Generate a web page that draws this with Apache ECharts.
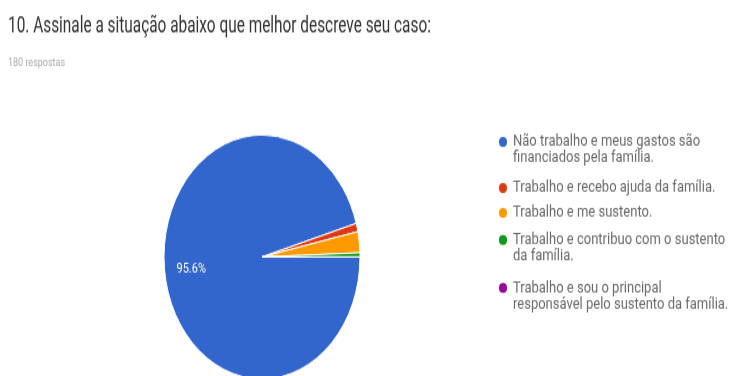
<!DOCTYPE html>
<html>
<head>
<meta charset="utf-8">
<script src="https://cdn.jsdelivr.net/npm/echarts@6/dist/echarts.min.js"></script>
<style>
  html, body { margin: 0; padding: 0; width: 738px; height: 376px; background: #ffffff; overflow: hidden; }
  /* the chart is drawn in a 738x302 box and stretched vertically to fill 376px */
  #chart { width: 738px; height: 302px; transform: scale(1, 1.245); transform-origin: 0 0; }
</style>
</head>
<body>
<div id="chart"></div>
<script>
// Survey question, response count and answer breakdown
const questionTitle = '10. Assinale a situação abaixo que melhor descreve seu caso:';
const responseNote = '180 respostas';
const answers = [
  'Não trabalho e meus gastos são financiados pela família.',
  'Trabalho e recebo ajuda da família.',
  'Trabalho e me sustento.',
  'Trabalho e contribuo com o sustento da família.',
  'Trabalho e sou o principal responsável pelo sustento da família.'
];
// legend text, wrapped the way it is shown beside the pie
const answerLines = [
  ['Não trabalho e meus gastos são', 'financiados pela família.'],
  ['Trabalho e recebo ajuda da família.'],
  ['Trabalho e me sustento.'],
  ['Trabalho e contribuo com o sustento', 'da família.'],
  ['Trabalho e sou o principal', 'responsável pelo sustento da família.']
];
const answerCounts = [172, 2, 5, 1, 0];
const sliceColors = ['#3366cc', '#dc3912', '#ff9900', '#109618', '#990099'];

const totalCount = answerCounts.reduce((s, v) => s + v, 0);
const pieData = answers.map((name, i) => ({ name: name, value: answerCounts[i] }));

const legendFont = 'Roboto, "Liberation Sans", sans-serif';
const lineH = 13;
const markerY = [114.1, 151.0, 171.1, 192.8, 231.3];
// wrapped entries get an empty leading line so the marker lines up with their first line
const legends = answers.map((name, i) => {
  const multi = answerLines[i].length > 1;
  return {
    data: [name],
    orient: 'vertical',
    left: 497,
    top: markerY[i] - (multi ? lineH * 1.5 : lineH / 2),
    padding: 0,
    icon: 'circle',
    itemWidth: 10,
    itemHeight: 10,
    selectedMode: false,
    formatter: () => (multi ? ' \n' : '') + answerLines[i].join('\n'),
    textStyle: {
      fontFamily: legendFont,
      fontSize: 13,
      color: '#6a6a6a',
      lineHeight: lineH
    }
  };
});

const chart = echarts.init(document.getElementById('chart'), null, { renderer: 'canvas' });
chart.setOption({
  backgroundColor: '#ffffff',
  animation: false,
  color: sliceColors,
  title: {
    text: responseNote,
    left: 8,
    top: 44.5,
    padding: 0,
    textStyle: {
      fontFamily: legendFont,
      fontSize: 9,
      fontWeight: 'normal',
      color: '#aaaaaa',
      lineHeight: 12
    }
  },
  graphic: [
    {
      // question heading, set in a narrowed face
      type: 'text',
      x: 8,
      y: 21,
      scaleX: 0.81,
      silent: true,
      style: {
        text: questionTitle,
        fontFamily: 'Roboto, sans-serif',
        fontSize: 19,
        fill: '#333333',
        verticalAlign: 'middle'
      }
    }
  ],
  legend: legends,
  series: [
    {
      type: 'pie',
      center: [262, 206.4],
      radius: [0, 98],
      startAngle: 0,
      clockwise: true,
      silent: true,
      label: { show: false },
      labelLine: { show: false },
      itemStyle: { borderColor: '#ffffff', borderWidth: 1 },
      data: pieData
    },
    {
      // transparent ring that only carries the percentage text, so it sits at ~70% of the radius
      type: 'pie',
      center: [262, 206.4],
      radius: [40, 97],
      startAngle: 0,
      clockwise: true,
      silent: true,
      itemStyle: { color: 'rgba(0,0,0,0)' },
      labelLine: { show: false },
      label: {
        show: true,
        position: 'inside',
        color: '#ffffff',
        fontFamily: legendFont,
        fontSize: 11,
        formatter: p => {
          const pct = p.value / totalCount * 100;
          return pct >= 5 ? pct.toFixed(1) + '%' : '';
        }
      },
      data: pieData
    }
  ]
});
</script>
</body>
</html>
